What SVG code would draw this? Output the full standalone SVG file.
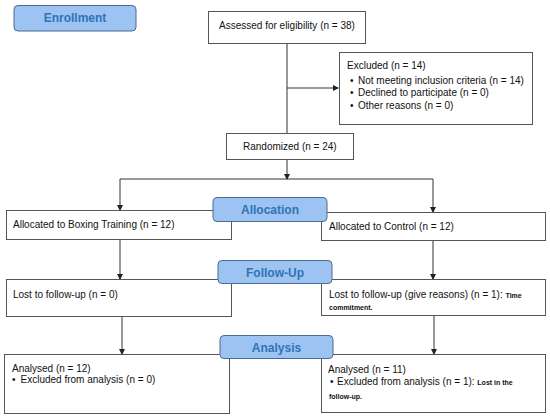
<svg xmlns="http://www.w3.org/2000/svg" width="550" height="417" viewBox="0 0 550 417">
<defs>
<marker id="ah" markerWidth="6" markerHeight="6" refX="5" refY="3" orient="auto" markerUnits="userSpaceOnUse">
<path d="M0,0 L6,3 L0,6 Z" fill="#222"/>
</marker>
</defs>
<style>
.box{fill:#fff;stroke:#555;stroke-width:1}
.lbl{fill:#9dc3f2;stroke:#4a6b90;stroke-width:1}
.lt{font-family:"Liberation Sans",Arial,sans-serif;font-size:12px;font-weight:bold;fill:#2e74b5;text-anchor:middle}
.t{font-family:"Liberation Sans",Arial,sans-serif;font-size:10px;fill:#111}
.s{font-size:7px;font-weight:bold}
.c{fill:none;stroke:#333;stroke-width:1}
</style>
<rect width="550" height="417" fill="#fff"/>
<g id="connectors">
<path class="c" d="M287,43 V133"/>
<path class="c" d="M287,88 H338" marker-end="url(#ah)"/>
<path class="c" d="M287,159 V179" marker-end="url(#ah)"/>
<path class="c" d="M120,179 H433"/>
<path class="c" d="M120,179 V210" marker-end="url(#ah)"/>
<path class="c" d="M433,179 V212" marker-end="url(#ah)"/>
<path class="c" d="M120,239 V279" marker-end="url(#ah)"/>
<path class="c" d="M433,240 V279" marker-end="url(#ah)"/>
<path class="c" d="M122,317 V354" marker-end="url(#ah)"/>
<path class="c" d="M434,315 V354" marker-end="url(#ah)"/>
</g>
<g id="assessed">
<rect class="box" x="208.5" y="11.5" width="157" height="32"/>
<text class="t" x="219" y="29">Assessed for eligibility (n = 38)</text>
</g>
<g id="excluded">
<rect class="box" x="339.5" y="52.5" width="193" height="72"/>
<text class="t" x="347" y="69">Excluded (n = 14)</text>
<text class="t" x="350" y="83.5">•<tspan x="358">Not meeting inclusion criteria (n = 14)</tspan></text>
<text class="t" x="350" y="96">•<tspan x="358">Declined to participate (n = 0)</tspan></text>
<text class="t" x="350" y="108.5">•<tspan x="358">Other reasons (n = 0)</tspan></text>
</g>
<g id="randomized">
<rect class="box" x="226.5" y="133.5" width="127" height="26"/>
<text class="t" x="243" y="150">Randomized (n = 24)</text>
</g>
<g id="alloc-left">
<rect class="box" x="6.5" y="210.5" width="225" height="29"/>
<text class="t" x="13" y="228">Allocated to Boxing Training (n = 12)</text>
</g>
<g id="alloc-right">
<rect class="box" x="321.5" y="212.5" width="224" height="28"/>
<text class="t" x="329" y="229.5">Allocated to Control (n = 12)</text>
</g>
<g id="follow-left">
<rect class="box" x="6.5" y="279.5" width="225" height="37"/>
<text class="t" x="13" y="297.5">Lost to follow-up (n = 0)</text>
</g>
<g id="follow-right">
<rect class="box" x="321.5" y="279.5" width="224" height="36"/>
<text class="t" x="329" y="297.5">Lost to follow-up (give reasons) (n = 1): <tspan class="s">Time</tspan></text>
<text class="t s" x="329" y="309.5">commitment.</text>
</g>
<g id="analysis-left">
<rect class="box" x="4.5" y="354.5" width="225" height="59"/>
<text class="t" x="12" y="371.5">Analysed (n = 12)</text>
<text class="t" x="12" y="383">•<tspan x="20.5">Excluded from analysis (n = 0)</tspan></text>
</g>
<g id="analysis-right">
<rect class="box" x="321.5" y="354.5" width="224" height="58"/>
<text class="t" x="328" y="372.5">Analysed (n = 11)</text>
<text class="t" x="330" y="385">•<tspan x="337">Excluded from analysis (n = 1): </tspan><tspan class="s">Lost in the</tspan></text>
<text class="t s" x="329" y="398.5">follow-up.</text>
</g>
<g id="label-enrollment">
<rect class="lbl" x="14" y="5.5" width="122" height="25.5" rx="4"/>
<text class="lt" x="75" y="22">Enrollment</text>
</g>
<g id="label-allocation">
<rect class="lbl" x="213" y="197.5" width="114" height="24" rx="4"/>
<text class="lt" x="270" y="214">Allocation</text>
</g>
<g id="label-followup">
<rect class="lbl" x="218" y="260.5" width="114" height="23" rx="4"/>
<text class="lt" x="275" y="276.5">Follow-Up</text>
</g>
<g id="label-analysis">
<rect class="lbl" x="220" y="335.5" width="113" height="23" rx="4"/>
<text class="lt" x="276.5" y="351.5">Analysis</text>
</g>
</svg>
